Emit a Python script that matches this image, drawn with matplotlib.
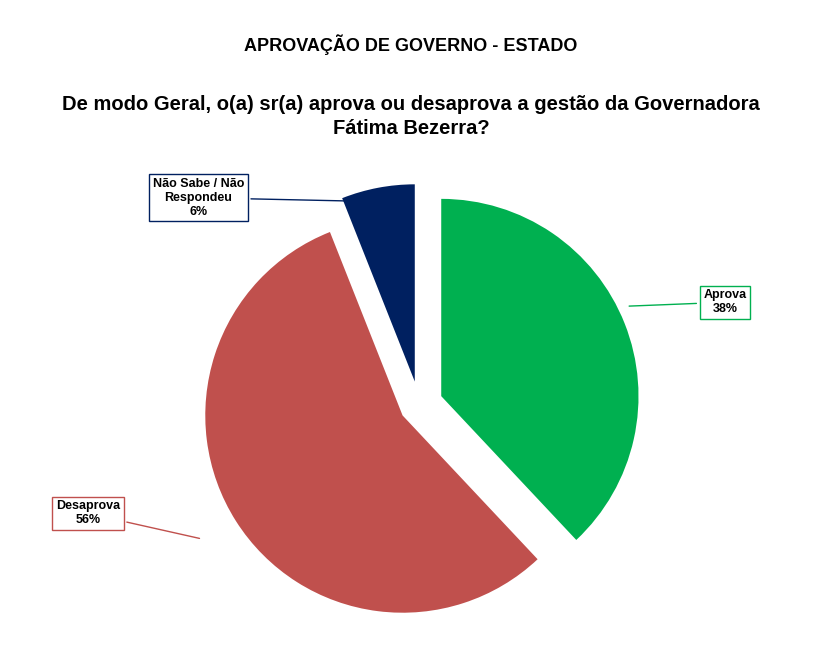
import matplotlib
matplotlib.use("Agg")
import matplotlib.pyplot as plt
import numpy as np

labels = ["Aprova", "Desaprova", "Não Sabe / Não\nRespondeu"]
values = [38, 56, 6]
colors = ["#00B050", "#C0504D", "#002060"]
explode = [0.12, 0.1, 0.12]

plt.rcParams['font.family'] = ['Liberation Sans', 'DejaVu Sans']
fig = plt.figure(figsize=(8.22, 6.53), dpi=100)
fig.text(0.5, 0.922, "APROVAÇÃO DE GOVERNO - ESTADO", ha="center", fontsize=13, fontweight="bold")
fig.text(0.5, 0.795, "De modo Geral, o(a) sr(a) aprova ou desaprova a gestão da Governadora\nFátima Bezerra?",
         ha="center", fontsize=14.5, fontweight="bold", linespacing=1.3)

ax = fig.add_axes([0.15, 0.02, 0.72, 0.72])
ax.set_aspect("equal")
wedges, _ = ax.pie(values, colors=colors, explode=explode, startangle=90, counterclock=False,
                   radius=1.0)
ax.set_xlim(-1.5, 1.5)
ax.set_ylim(-1.17, 1.17)

pos = [(1.55, 0.52), (-1.68, -0.55), (-1.12, 1.05)]
anchors = [(1.05, 0.5), (-1.1, -0.68), (-0.2, 1.03)]
for lab, v, c, p, a in zip(labels, values, colors, pos, anchors):
    ax.annotate(f"{lab}\n{v}%", xy=a, xytext=p, ha="center", va="center", fontsize=9,
                fontweight="bold", annotation_clip=False,
                bbox=dict(boxstyle="square,pad=0.3", fc="white", ec=c, lw=1),
                arrowprops=dict(arrowstyle="-", color=c, lw=1))
fig.savefig("out.png", dpi=100)
